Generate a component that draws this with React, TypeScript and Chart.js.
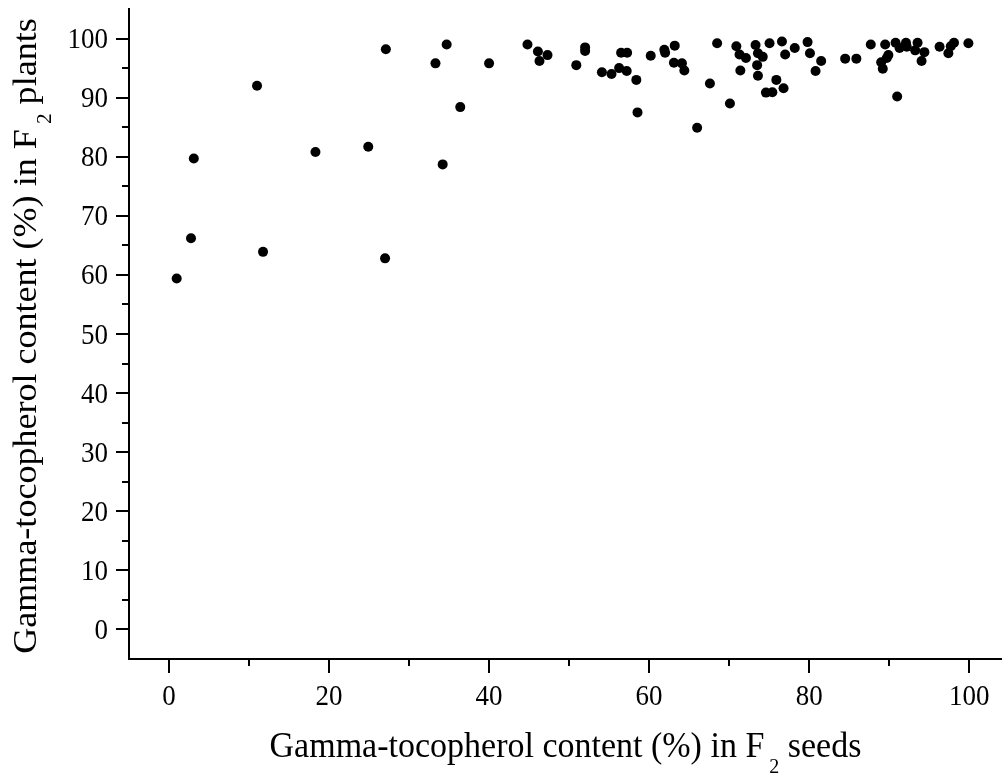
import React, { useEffect, useRef } from "react";
import { Chart, registerables } from "chart.js";

Chart.register(...registerables);

// Gamma-tocopherol content (%) in F2 seeds
const seedValues: number[] = [
  27.1, 34.7, 33.3, 40.0, 11.0, 36.4, 3.1, 18.3, 24.9, 34.2, 2.75, 11.75, 27.0, 0.96,
  44.8, 46.1, 47.3, 46.3, 52.0, 52.0, 50.9, 54.1, 55.3, 56.25, 56.5, 57.25, 57.2, 58.4, 58.55, 60.2, 61.9, 62.0,
  63.2, 63.1, 64.1, 64.4, 68.5, 67.6, 70.1, 66.0, 70.9, 71.3, 72.1, 71.4, 73.3, 73.6, 74.2, 73.5, 73.6, 75.05,
  76.6, 77.0, 78.2, 79.8, 80.1, 81.5, 80.8, 75.9, 76.8, 74.6, 75.4,
  84.5, 85.9, 87.7, 89.5, 89.9, 89.7, 89.0, 89.2, 90.8, 91.3, 92.1, 92.2, 91.0, 93.55, 93.25, 94.4, 94.05,
  96.3, 98.1, 97.7, 97.4, 99.9,
];

// Gamma-tocopherol content (%) in F2 plants
const plantValues: number[] = [
  98.2, 99.0, 95.8, 95.8, 92.0, 88.4, 79.7, 80.8, 81.7, 78.7, 66.2, 63.9, 62.8, 59.4,
  99.0, 97.8, 97.2, 96.2, 98.5, 97.9, 95.5, 94.3, 94.0, 95.0, 97.6, 97.6, 94.5, 93.0, 87.5, 97.1, 98.1, 97.6,
  98.8, 95.9, 95.8, 94.6, 99.2, 92.4, 89.0, 84.9, 98.7, 97.3, 96.7, 94.6, 98.9, 97.5, 96.9, 95.5, 93.7, 99.2,
  99.5, 97.3, 98.4, 99.4, 97.5, 96.2, 94.5, 93.0, 91.6, 90.85, 90.9,
  96.6, 96.6, 99.0, 99.0, 97.2, 96.7, 96.0, 94.9, 99.3, 98.4, 99.3, 98.6, 90.2, 99.3, 98.0, 97.7, 96.2,
  98.6, 99.3, 98.7, 97.5, 99.2,
];

const xMajorTicks: number[] = [0, 20, 40, 60, 80, 100];
const xMinorTicks: number[] = [10, 30, 50, 70, 90];
const yMajorTicks: number[] = [0, 10, 20, 30, 40, 50, 60, 70, 80, 90, 100];
const yMinorTicks: number[] = [5, 15, 25, 35, 45, 55, 65, 75, 85, 95];

const xTitleParts = [
  { text: "Gamma-tocopherol content (%) in F", sub: false },
  { text: "2", sub: true },
  { text: " seeds", sub: false },
];
const yTitleParts = [
  { text: "Gamma-tocopherol content (%) in F", sub: false },
  { text: "2", sub: true },
  { text: " plants", sub: false },
];

const FONT = "'Liberation Serif', 'Times New Roman', serif";
const TITLE_SIZE = 34;
const SUB_SIZE = 20;
const TICK_SIZE = 27;
const STRETCH = 1.06;

function drawRich(ctx: CanvasRenderingContext2D, parts: { text: string; sub: boolean }[]) {
  const widths = parts.map((p) => {
    ctx.font = `${p.sub ? SUB_SIZE : TITLE_SIZE}px ${FONT}`;
    return ctx.measureText(p.text).width + (p.sub ? 5 : 0);
  });
  const total = widths.reduce((a, b) => a + b, 0);
  let x = -total / 2;
  ctx.textBaseline = "alphabetic";
  ctx.textAlign = "left";
  parts.forEach((p, i) => {
    ctx.font = `${p.sub ? SUB_SIZE : TITLE_SIZE}px ${FONT}`;
    ctx.fillText(p.text, x + (p.sub ? 5 : 0), p.sub ? 15 : 0);
    x += widths[i];
  });
}

const decorPlugin = {
  id: "decor",
  afterDraw(chart: any) {
    const ctx: CanvasRenderingContext2D = chart.ctx;
    const xs = chart.scales.x;
    const ys = chart.scales.y;
    const area = chart.chartArea;
    ctx.save();
    ctx.strokeStyle = "#000";
    ctx.lineWidth = 2;
    ctx.beginPath();
    xMajorTicks.forEach((v) => {
      const p = Math.round(xs.getPixelForValue(v));
      ctx.moveTo(p, area.bottom);
      ctx.lineTo(p, area.bottom + 14);
    });
    xMinorTicks.forEach((v) => {
      const p = Math.round(xs.getPixelForValue(v));
      ctx.moveTo(p, area.bottom);
      ctx.lineTo(p, area.bottom + 7);
    });
    yMajorTicks.forEach((v) => {
      const p = Math.round(ys.getPixelForValue(v));
      ctx.moveTo(area.left, p);
      ctx.lineTo(area.left - 13, p);
    });
    yMinorTicks.forEach((v) => {
      const p = Math.round(ys.getPixelForValue(v));
      ctx.moveTo(area.left, p);
      ctx.lineTo(area.left - 7, p);
    });
    ctx.stroke();

    ctx.fillStyle = "#000";
    ctx.font = `${TICK_SIZE}px ${FONT}`;
    ctx.textBaseline = "alphabetic";
    // x tick labels
    ctx.textAlign = "center";
    xMajorTicks.forEach((v) => {
      const p = xs.getPixelForValue(v);
      ctx.save();
      ctx.translate(p, 705);
      ctx.scale(1, STRETCH);
      ctx.fillText(String(v), 0, 0);
      ctx.restore();
    });
    // y tick labels
    ctx.textAlign = "right";
    yMajorTicks.forEach((v) => {
      const p = ys.getPixelForValue(v);
      ctx.save();
      ctx.translate(108, p + 9.5);
      ctx.scale(1, STRETCH);
      ctx.fillText(String(v), 0, 0);
      ctx.restore();
    });

    // x title
    ctx.save();
    ctx.translate((area.left + area.right) / 2, 757);
    ctx.scale(1, STRETCH);
    drawRich(ctx, xTitleParts);
    ctx.restore();
    // y title
    ctx.save();
    ctx.translate(36, (area.top + area.bottom) / 2 + 2);
    ctx.rotate(-Math.PI / 2);
    ctx.scale(STRETCH, 1);
    drawRich(ctx, yTitleParts);
    ctx.restore();
    ctx.restore();
  },
};

export default function App() {
  const canvasRef = useRef<HTMLCanvasElement | null>(null);

  useEffect(() => {
    document.body.style.margin = "0";
    const canvas = canvasRef.current;
    if (!canvas) return;
    const points = seedValues.map((x, i) => ({ x, y: plantValues[i] }));
    const chart = new Chart(canvas, {
      type: "scatter",
      data: {
        datasets: [
          {
            data: points,
            backgroundColor: "#000",
            borderWidth: 0,
            pointRadius: 5,
            pointHoverRadius: 5,
          },
        ],
      },
      options: {
        animation: false,
        responsive: true,
        maintainAspectRatio: false,
        layout: { autoPadding: false, padding: { left: 0, top: 9, right: 0, bottom: 0 } },
        plugins: {
          legend: { display: false },
          tooltip: { enabled: false },
        },
        scales: {
          x: {
            type: "linear",
            min: -5,
            max: 104.1,
            grid: { display: false, drawTicks: false },
            border: { display: true, color: "#000", width: 2 },
            afterBuildTicks: (scale: any) => {
              scale.ticks = xMajorTicks.map((v) => ({ value: v }));
            },
            afterFit: (scale: any) => {
              scale.height = 119;
              scale.paddingLeft = 0;
              scale.paddingRight = 0;
            },
            ticks: { display: false },
          },
          y: {
            type: "linear",
            min: -5,
            max: 105,
            grid: { display: false, drawTicks: false },
            border: { display: true, color: "#000", width: 2 },
            afterBuildTicks: (scale: any) => {
              scale.ticks = yMajorTicks.map((v) => ({ value: v }));
            },
            afterFit: (scale: any) => {
              scale.width = 129;
              scale.paddingTop = 0;
              scale.paddingBottom = 0;
            },
            ticks: { display: false },
          },
        },
      },
      plugins: [decorPlugin],
    });
    return () => chart.destroy();
  }, []);

  return (
    <div style={{ position: "absolute", left: 0, top: 0, width: 1002, height: 778, background: "#fff" }}>
      <canvas ref={canvasRef} />
    </div>
  );
}
